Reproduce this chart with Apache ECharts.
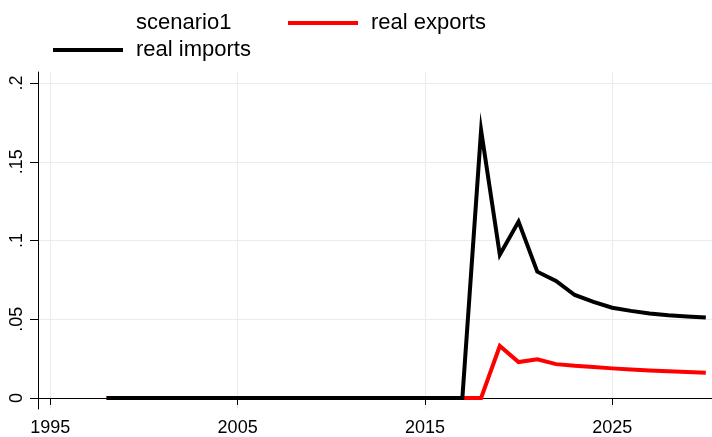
<!DOCTYPE html>
<html>
<head>
<meta charset="utf-8">
<script src="https://cdn.jsdelivr.net/npm/echarts@6/dist/echarts.min.js"></script>
<style>
  html, body { margin: 0; padding: 0; background: #fff; }
  #chart { width: 712px; height: 437px; }
</style>
</head>
<body>
<div id="chart"></div>
<script>
const years = [1998,1999,2000,2001,2002,2003,2004,2005,2006,2007,2008,2009,2010,2011,2012,2013,2014,2015,2016,2017,2018,2019,2020,2021,2022,2023,2024,2025,2026,2027,2028,2029,2030];
const realExports = [0,0,0,0,0,0,0,0,0,0,0,0,0,0,0,0,0,0,0,0,0,0.033,0.0228,0.0245,0.0215,0.0204,0.0196,0.0188,0.0181,0.0175,0.0169,0.0165,0.0160];
const realImports = [0,0,0,0,0,0,0,0,0,0,0,0,0,0,0,0,0,0,0,0,0.170,0.091,0.112,0.0802,0.0743,0.0654,0.0610,0.0573,0.0553,0.0537,0.0526,0.0518,0.0511];
const scenario1 = [];
const xTicks = [1995, 2005, 2015, 2025];
const yTicks = [0, 0.05, 0.1, 0.15, 0.2];
const yTickLabels = ['0', '.05', '.1', '.15', '.2'];

const font = "'Liberation Sans', Arial, sans-serif";
const gridColor = '#e5edef';
const pairs = (vals) => vals.map((v, i) => [years[i], v]);

const chart = echarts.init(document.getElementById('chart'), null, { renderer: 'canvas' });
const legendBase = {
  itemWidth: 70,
  itemHeight: 4,
  itemGap: 0,
  padding: 0,
  icon: 'rect',
  selectedMode: false,
  textStyle: { fontFamily: font, fontSize: 22, color: '#000', padding: [0, 0, 0, 8], lineHeight: 24 }
};
chart.setOption({
  backgroundColor: '#fff',
  animation: false,
  legend: [
    Object.assign({ data: ['scenario1'], left: 53, top: 11 }, legendBase),
    Object.assign({ data: ['real exports'], left: 288, top: 11 }, legendBase),
    Object.assign({ data: ['real imports'], left: 53, top: 38 }, legendBase)
  ],
  grid: { left: 38, right: 0, top: 72, bottom: 27, containLabel: false },
  xAxis: {
    type: 'value',
    min: 1994.34,
    max: 2030.33,
    axisLine: { show: true, lineStyle: { color: '#000', width: 1 } },
    axisTick: { show: true, length: 7, lineStyle: { color: '#000' }, customValues: xTicks },
    axisLabel: { customValues: xTicks, fontFamily: font, fontSize: 18, color: '#000', margin: 10,
      formatter: (v) => String(Math.round(v)) },
    splitLine: { show: true, lineStyle: { color: gridColor, width: 1 } }
  },
  yAxis: {
    type: 'value',
    min: -0.007,
    max: 0.207,
    axisLine: { show: true, lineStyle: { color: '#000', width: 1 } },
    axisTick: { show: true, length: 8, lineStyle: { color: '#000' }, customValues: yTicks },
    axisLabel: { customValues: yTicks, rotate: 90, fontFamily: font, fontSize: 18, color: '#000', margin: 12,
      formatter: (v) => { const i = yTicks.findIndex(t => Math.abs(t - v) < 1e-9); return i >= 0 ? yTickLabels[i] : ''; } },
    splitLine: { show: true, lineStyle: { color: gridColor, width: 1 } }
  },
  series: [
    { name: 'scenario1', type: 'line', data: scenario1, symbol: 'none', color: '#ffffff',
      lineStyle: { color: '#ffffff', width: 4 } },
    { name: 'real exports', type: 'line', data: pairs(realExports), symbol: 'none', color: '#ff0000',
      lineStyle: { color: '#ff0000', width: 4, join: 'miter' } },
    { name: 'real imports', type: 'line', data: pairs(realImports), symbol: 'none', color: '#000000',
      lineStyle: { color: '#000000', width: 4, join: 'miter' } }
  ]
});
</script>
</body>
</html>
